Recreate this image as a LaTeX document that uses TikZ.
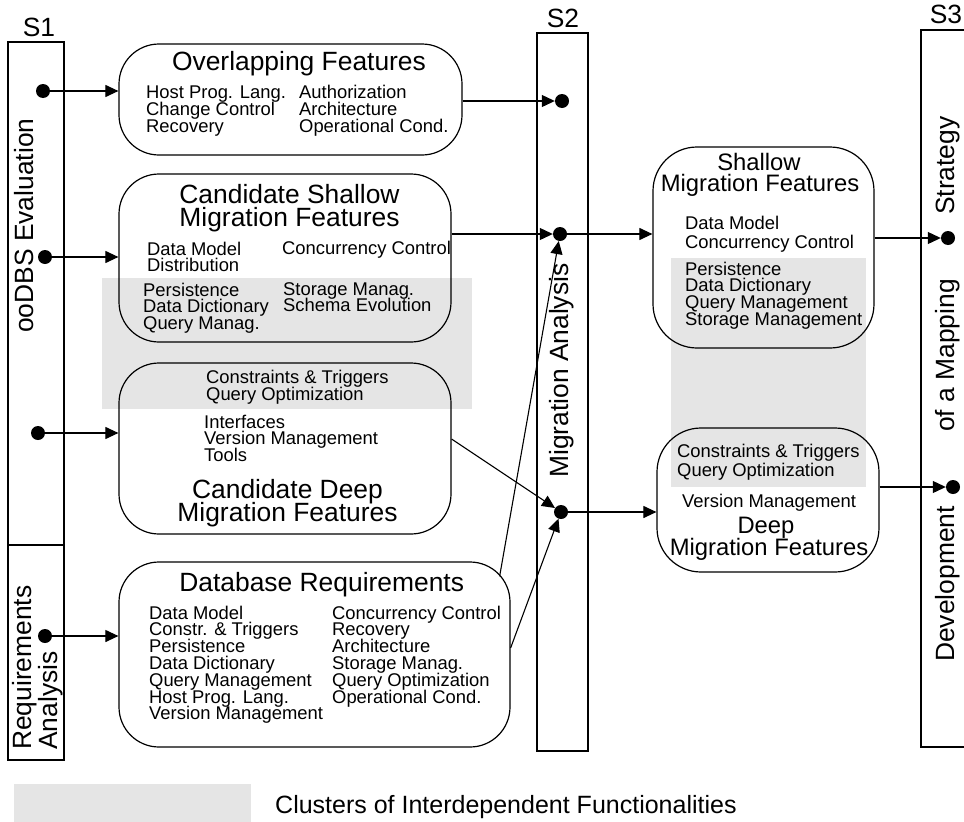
\documentclass[tikz,border=0pt]{standalone}
\usepackage{fontspec}
\setmainfont{Liberation Sans}
\usetikzlibrary{arrows.meta,calc}

\definecolor{clustergray}{RGB}{229,229,229}
\newcommand{\bigfont}{\fontsize{26.4}{22}\selectfont}
\newcommand{\midfont}{\fontsize{23.8}{20}\selectfont}
\newcommand{\smallfont}{\fontsize{18.4}{17}\selectfont}

\tikzset{
  featbox/.style={draw, line width=1.2pt, rounded corners=40pt, inner sep=0pt},
  stagebox/.style={draw, line width=1.2pt, inner sep=0pt},
  stagetext/.style={font=\bigfont, inner sep=0pt, rotate=90, anchor=base west},
  dot/.style={circle, fill, inner sep=0pt, minimum size=14pt},
  flow/.style={line width=1.1pt, -{Triangle[length=13pt,width=12pt]}},
  title/.style={font=\bigfont, inner sep=0pt, anchor=base, text depth=0pt},
  subtitle/.style={font=\midfont, inner sep=0pt, anchor=base, text depth=0pt},
  item/.style={font=\smallfont, inner sep=0pt, anchor=base west},
  cluster/.style={fill=clustergray, draw=none},
}

\begin{document}
\begin{tikzpicture}[x=1pt,y=-1pt]
  \useasboundingbox (0,0) rectangle (964,822);
  \clip (0,0) rectangle (964,822);

  %%% CLUSTERS
  \fill[cluster] (102,278) rectangle (472,409);
  \fill[cluster] (671,258) rectangle (866,487);

  %%% STAGES
  \node[stagebox, minimum width=56pt, minimum height=503pt] (evalbox) at (36,293.5) {};
  \node[stagebox, minimum width=56pt, minimum height=215pt] (reqbox) at (36,652.5) {};
  \node[stagebox, minimum width=51pt, minimum height=718pt] (migbox) at (562.5,392) {};
  \node[stagebox, minimum width=51pt, minimum height=717pt] (devbox) at (946.5,388.5) {};

  \node[title] (s1) at (39,36) {S1};
  \node[title] (s2) at (563,27) {S2};
  \node[title] (s3) at (946,23) {S3};

  \node[stagetext] (evaltext) at (33,333) {ooDBS Evaluation};
  \node[stagetext] (reqtext) at (31,750) {Requirements};
  \node[stagetext] (anatext) at (57,750) {Analysis};
  \node[stagetext] (migtext) at (568,478) {Migration Analysis};
  \node[stagetext] (devtext) at (954,662) {Development};
  \node[stagetext] (maptext) at (954,432) {of a Mapping};
  \node[stagetext] (strtext) at (954,215) {Strategy};

  %%% FEATURE BOXES
  \node[featbox, minimum width=343pt, minimum height=111pt] (overlap) at (290.5,99.5) {};
  \node[title] (overlap-t) at (299,70) {Overlapping Features};
  \foreach \txt [count=\k] in {Host Prog. Lang., Change Control, Recovery}
    \node[item] (overlap-a\k) at (146,98+17*\k-17) {\txt};
  \foreach \txt [count=\k] in {Authorization, Architecture, Operational Cond.}
    \node[item] (overlap-b\k) at (299,98+17*\k-17) {\txt};

  \node[featbox, minimum width=332pt, minimum height=168pt] (cshallow) at (285,258) {};
  \node[title] (cshallow-t1) at (289.5,203.5) {Candidate Shallow};
  \node[title] (cshallow-t2) at (289.5,226.5) {Migration Features};
  \foreach \txt [count=\k] in {Data Model, Distribution}
    \node[item] (cshallow-a\k) at (147,255+16.5*\k-16.5) {\txt};
  \node[item] (cshallow-b1) at (282,254) {Concurrency Control};
  \foreach \txt [count=\k] in {Persistence, Data Dictionary, Query Manag.}
    \node[item] (cshallow-c\k) at (143,296+16.5*\k-16.5) {\txt};
  \foreach \txt [count=\k] in {Storage Manag., Schema Evolution}
    \node[item] (cshallow-d\k) at (283,295+16.5*\k-16.5) {\txt};

  \node[featbox, minimum width=332pt, minimum height=171pt] (cdeep) at (285,448.5) {};
  \foreach \txt [count=\k] in {Constraints \& Triggers, Query Optimization}
    \node[item] (cdeep-a\k) at (206,383+17*\k-17) {\txt};
  \foreach \txt [count=\k] in {Interfaces, Version Management, Tools}
    \node[item] (cdeep-b\k) at (204,428+16.5*\k-16.5) {\txt};
  \node[title] (cdeep-t1) at (287.5,498.5) {Candidate Deep};
  \node[title] (cdeep-t2) at (287.5,521.5) {Migration Features};

  \node[featbox, minimum width=391pt, minimum height=185pt] (dbreq) at (314.5,654.5) {};
  \node[title] (dbreq-t) at (321.7,591) {Database Requirements};
  \foreach \txt [count=\k] in {Data Model, Constr. \& Triggers, Persistence, Data Dictionary,
      Query Management, Host Prog. Lang., Version Management}
    \node[item] (dbreq-a\k) at (149,619+16.8*\k-16.8) {\txt};
  \foreach \txt [count=\k] in {Concurrency Control, Recovery, Architecture, Storage Manag.,
      Query Optimization, Operational Cond.}
    \node[item] (dbreq-b\k) at (332,619+16.8*\k-16.8) {\txt};

  \node[featbox, rounded corners=44pt, minimum width=221pt, minimum height=201pt] (shallow) at (763.5,247.5) {};
  \node[subtitle] (shallow-t1) at (759,170.5) {Shallow};
  \node[subtitle] (shallow-t2) at (760,191.5) {Migration Features};
  \foreach \txt [count=\k] in {Data Model, Concurrency Control}
    \node[item] (shallow-a\k) at (685,229+19*\k-19) {\txt};
  \foreach \txt [count=\k] in {Persistence, Data Dictionary, Query Management, Storage Management}
    \node[item] (shallow-b\k) at (685,275+16.7*\k-16.7) {\txt};

  \node[featbox, rounded corners=44pt, minimum width=222pt, minimum height=144pt] (deep) at (768,500) {};
  \foreach \txt [count=\k] in {Constraints \& Triggers, Query Optimization}
    \node[item] (deep-a\k) at (677,457+19*\k-19) {\txt};
  \node[item] (deep-b1) at (682,507) {Version Management};
  \node[subtitle] (deep-t1) at (766,533) {Deep};
  \node[subtitle] (deep-t2) at (769,555) {Migration Features};

  %%% DOTS
  \node[dot] (e1) at (43,91) {};
  \node[dot] (e2) at (45,257) {};
  \node[dot] (e3) at (38,433) {};
  \node[dot] (e4) at (45,636) {};
  \node[dot] (m1) at (562,101) {};
  \node[dot] (m2) at (560,234) {};
  \node[dot] (m3) at (561,512) {};
  \node[dot] (d1) at (948,238) {};
  \node[dot] (d2) at (953,487) {};

  %%% CONNECTIONS
  \draw[flow] (e1) -- (e1 -| overlap.west);
  \draw[flow] (e2) -- (e2 -| cshallow.west);
  \draw[flow] (e3) -- (e3 -| cdeep.west);
  \draw[flow] (e4) -- (e4 -| dbreq.west);

  \draw[flow] (overlap.east |- m1) -- (m1);
  \draw[flow] (cshallow.east |- m2) -- (m2);
  \draw[flow] ($(dbreq.north east)+(-11,15)$) -- (m2);
  \draw[flow] ($(cdeep.east)+(0,-9.5)$) -- (m3);
  \draw[flow] ($(dbreq.east)+(0,-6.5)$) -- (m3);

  \draw[flow] (m2) -- (m2 -| shallow.west);
  \draw[flow] (m3) -- (m3 -| deep.west);
  \draw[flow] (shallow.east |- d1) -- (d1);
  \draw[flow] (deep.east |- d2) -- (d2);

  %%% LEGEND
  \fill[cluster] (14,784) rectangle (251,822);
  \node[item, font=\fontsize{25}{25}\selectfont] (legend) at (275,813) {Clusters of Interdependent Functionalities};
\end{tikzpicture}
\end{document}
